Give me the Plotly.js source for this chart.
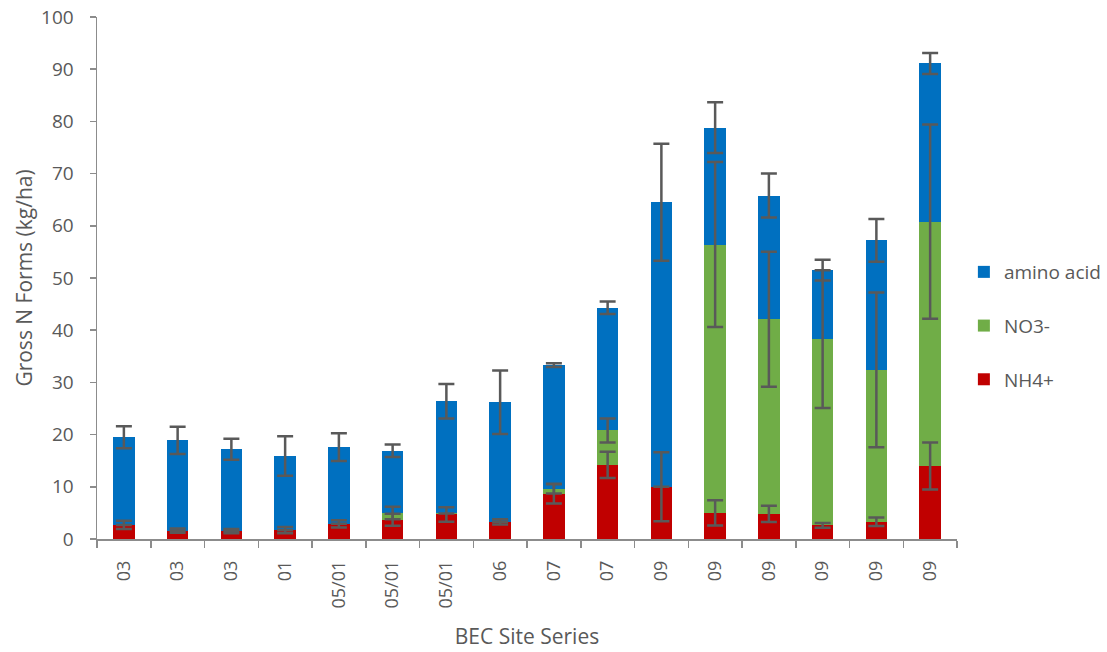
<!DOCTYPE html>
<html>
<head>
<meta charset="utf-8">
<script src="https://cdn.plot.ly/plotly-3.0.1.min.js"></script>
<style>
  html, body { margin: 0; padding: 0; background: #fff; }
  #chart { width: 1107px; height: 652px; }
</style>
</head>
<body>
<div id="chart"></div>
<script>
// BEC site series for each sampled plot (labels repeat, so bars sit on numeric slots)
const siteSeries = ["03", "03", "03", "01", "05/01", "05/01", "05/01", "06",
                    "07", "07", "09", "09", "09", "09", "09", "09"];

// Gross N forms (kg/ha) per plot, stacked bottom to top
const nh4     = [2.7, 1.6, 1.5, 1.7, 2.9, 3.7, 4.7, 3.3, 8.7, 14.2, 10.0, 5.0, 4.8, 2.6, 3.3, 14.0];
const nh4Err  = [0.8, 0.4, 0.4, 0.6, 0.7, 1.15, 1.4, 0.5, 1.9, 2.5, 6.6, 2.4, 1.55, 0.45, 0.8, 4.5];

const no3     = [0, 0, 0, 0, 0, 1.3, 0.2, 0, 0.9, 6.6, 0, 51.4, 37.3, 35.7, 29.1, 46.8];
const no3Err  = [null, null, null, null, null, 1.2, null, null, 0.9, 2.3, null, 15.8, 12.95, 13.2, 14.8, 18.6];

const amino    = [16.8, 17.3, 15.7, 14.2, 14.7, 11.9, 21.5, 22.9, 23.7, 23.5, 54.5, 22.4, 23.7, 13.2, 24.8, 30.3];
const aminoErr = [2.1, 2.6, 2.0, 3.8, 2.65, 1.2, 3.3, 6.1, 0.35, 1.2, 11.2, 4.85, 4.2, 2.0, 4.1, 2.0];

const yTicks = [0, 10, 20, 30, 40, 50, 60, 70, 80, 90, 100];

const slots = siteSeries.map((_, i) => i);
const textGrey = "#595959";
const axisGrey = "#8c8c8c";

const series = [
  { name: "NH4+", y: nh4, err: nh4Err, color: "#C00000", group: "nh4", rank: 3 },
  { name: "NO3-", y: no3, err: no3Err, color: "#70AD47", group: "no3", rank: 2 },
  { name: "amino acid", y: amino, err: aminoErr, color: "#0070C0", group: "amino", rank: 1 }
];

// Stacked bar segments
const barTraces = series.map(s => ({
  type: "bar",
  name: s.name,
  x: slots,
  y: s.y,
  legendgroup: s.group,
  legendrank: s.rank,
  marker: { color: s.color, line: { width: 0 } },
  hoverinfo: "name+y"
}));

// Error whiskers sit at the top of each segment and are drawn above all bars
const running = slots.map(() => 0);
const errTraces = series.map(s => {
  const tops = s.y.map((v, i) => (running[i] += v));
  return {
    type: "scatter",
    mode: "markers",
    x: slots,
    y: tops.slice(),
    marker: { size: 1, opacity: 0 },
    showlegend: false,
    hoverinfo: "skip",
    error_y: {
      type: "data",
      array: s.err,
      symmetric: true,
      visible: true,
      color: textGrey,
      thickness: 2.5,
      width: 8
    }
  };
});

const layout = {
  width: 1107,
  height: 652,
  margin: { l: 97, r: 150, t: 17, b: 113, pad: 0, autoexpand: false },
  paper_bgcolor: "#ffffff",
  plot_bgcolor: "#ffffff",
  barmode: "stack",
  bargap: 0.6,
  font: { family: "Open Sans, sans-serif", color: textGrey, size: 18 },
  showlegend: true,
  legend: {
    x: 1.008,
    xanchor: "left",
    y: 0.408,
    yanchor: "middle",
    traceorder: "grouped",
    tracegroupgap: 26,
    font: { size: 19, color: textGrey },
    bgcolor: "rgba(0,0,0,0)"
  },
  xaxis: {
    range: [-0.5, 15.5],
    tickmode: "array",
    tickvals: slots,
    ticktext: siteSeries,
    tickangle: -90,
    ticks: "",
    ticklabelstandoff: 13,
    tickfont: { size: 18, color: textGrey },
    showline: true,
    linecolor: axisGrey,
    linewidth: 1.5,
    showgrid: false,
    zeroline: false,
    minor: {
      tickmode: "linear",
      tick0: -0.5,
      dtick: 1,
      ticks: "outside",
      ticklen: 7,
      tickwidth: 1.5,
      tickcolor: axisGrey,
      showgrid: false
    },
    title: {
      text: "BEC Site Series",
      font: { size: 21, color: textGrey },
      standoff: 22
    },
    automargin: false
  },
  yaxis: {
    range: [0, 100],
    tickmode: "array",
    tickvals: yTicks,
    ticks: "outside",
    ticklen: 6,
    tickwidth: 1.5,
    tickcolor: axisGrey,
    ticklabelstandoff: 12,
    tickfont: { size: 19, color: textGrey },
    showline: true,
    linecolor: axisGrey,
    linewidth: 1.5,
    showgrid: false,
    zeroline: false,
    title: {
      text: "Gross N Forms (kg/ha)",
      font: { size: 21, color: textGrey },
      standoff: 3
    },
    automargin: false
  }
};

Plotly.newPlot("chart", barTraces.concat(errTraces), layout, { displayModeBar: false, staticPlot: true });
</script>
</body>
</html>
